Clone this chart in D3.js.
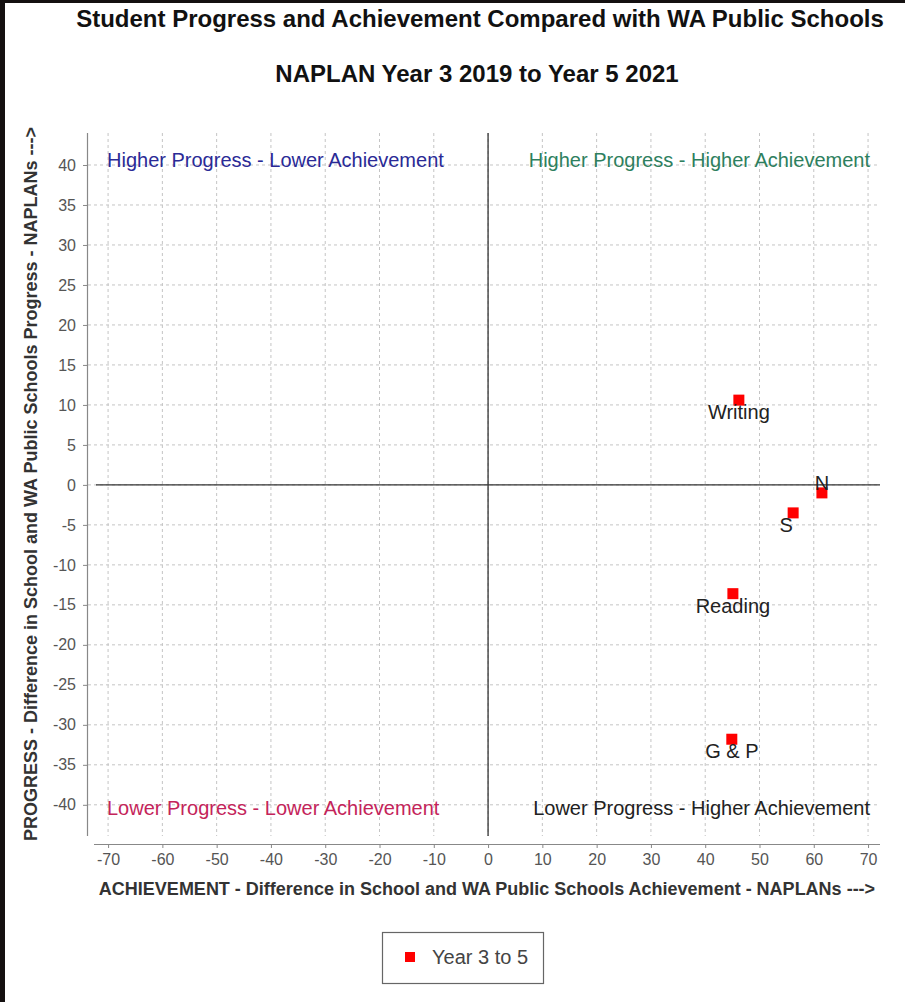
<!DOCTYPE html>
<html>
<head>
<meta charset="utf-8">
<style>
  html, body { margin: 0; padding: 0; background: #fff; }
  svg { display: block; font-family: "Liberation Sans", Arial, sans-serif; }
</style>
</head>
<body>
<svg width="905" height="1002"></svg>
<script src="https://d3js.org/d3.v7.min.js"></script>
<script>
// data
const subjects = ["Writing", "N", "S", "Reading", "G & P"];
const achievement = [46.2, 61.5, 56.2, 45.1, 44.9];
const progress = [10.6, -1.0, -3.5, -13.6, -31.8];
const xTicks = [-70, -60, -50, -40, -30, -20, -10, 0, 10, 20, 30, 40, 50, 60, 70];
const yTicks = [40, 35, 30, 25, 20, 15, 10, 5, 0, -5, -10, -15, -20, -25, -30, -35, -40];
const quadrants = ["Higher Progress - Lower Achievement", "Higher Progress - Higher Achievement",
                   "Lower Progress - Lower Achievement", "Lower Progress - Higher Achievement"];
const seriesName = "Year 3 to 5";

const width = 905, height = 1002;
const svg = d3.select("svg");

// dark frame on top / left like the screenshot
svg.append("rect").attr("width", width).attr("height", height).attr("fill", "#fff");
svg.append("rect").attr("x", 0).attr("y", 0).attr("width", width).attr("height", 3).attr("fill", "#141010");
svg.append("rect").attr("x", 0).attr("y", 0).attr("width", 5).attr("height", height).attr("fill", "#141010");

// plot area
const plot = {left: 88, right: 880, top: 133, bottom: 836};
const x = d3.scaleLinear().domain([-73.7, 72.2]).range([plot.left, plot.right]);
const y = d3.scaleLinear().domain([44, -43.9]).range([plot.top, plot.bottom]);

// titles
svg.append("text").attr("x", 480).attr("y", 27).attr("text-anchor", "middle")
  .attr("font-weight", "bold").attr("font-size", "24px").attr("fill", "#111")
  .text("Student Progress and Achievement Compared with WA Public Schools");
svg.append("text").attr("x", 477).attr("y", 82).attr("text-anchor", "middle")
  .attr("font-weight", "bold").attr("font-size", "24px").attr("fill", "#111")
  .text("NAPLAN Year 3 2019 to Year 5 2021");

// grid
const grid = svg.append("g").attr("stroke", "#c4c4c4").attr("stroke-width", 1).attr("stroke-dasharray", "3,3");
grid.selectAll(".gx").data(xTicks).enter().append("line")
  .attr("x1", d => x(d)).attr("x2", d => x(d))
  .attr("y1", plot.top).attr("y2", plot.bottom);
grid.selectAll(".gy").data(yTicks).enter().append("line")
  .attr("x1", plot.left).attr("x2", plot.right)
  .attr("y1", d => y(d)).attr("y2", d => y(d));

// zero lines
svg.append("line").attr("x1", 96).attr("x2", plot.right).attr("y1", y(0)).attr("y2", y(0))
  .attr("stroke", "#333").attr("stroke-width", 1.3);
svg.append("line").attr("x1", x(0)).attr("x2", x(0)).attr("y1", plot.top).attr("y2", plot.bottom)
  .attr("stroke", "#333").attr("stroke-width", 1.3);

// axes
const fmt = d => String(d);
const axisX = d3.axisBottom(x).tickValues(xTicks).tickFormat(fmt).tickSize(4).tickPadding(6);
const gx = svg.append("g").attr("transform", "translate(0,844)").call(axisX);
gx.select(".domain").attr("d", `M${94},0.5H${plot.right}`);
const axisY = d3.axisLeft(y).tickValues(yTicks).tickFormat(fmt).tickSize(4).tickPadding(7);
const gy = svg.append("g").attr("transform", "translate(87,0)").call(axisY);
gy.select(".domain").attr("d", `M0.5,${plot.top}V${plot.bottom}`);
[gx, gy].forEach(g => {
  g.select(".domain").attr("stroke", "#888").attr("stroke-width", 1.2);
  g.selectAll(".tick line").attr("stroke", "#888");
  g.selectAll(".tick text").attr("fill", "#555").attr("font-size", "16px")
    .attr("font-family", "Liberation Sans, Arial, sans-serif");
});

// axis titles
svg.append("text").attr("x", 487).attr("y", 895).attr("text-anchor", "middle")
  .attr("font-weight", "bold").attr("font-size", "18px").attr("fill", "#333")
  .text("ACHIEVEMENT - Difference in School and WA Public Schools Achievement - NAPLANs  --->");
svg.append("text").attr("transform", "translate(37,484) rotate(-90)").attr("text-anchor", "middle")
  .attr("font-weight", "bold").attr("font-size", "18px").attr("fill", "#333")
  .text("PROGRESS - Difference in School and WA Public Schools Progress - NAPLANs  --->");

// quadrant labels
const qColors = ["#2a2a96", "#2e7f5e", "#c4245a", "#222"];
const qX = [107, 870, 107, 870];
const qAnchor = ["start", "end", "start", "end"];
const qY = [167, 167, 815, 815];
svg.selectAll(".quad").data(quadrants).enter().append("text")
  .attr("x", (d, i) => qX[i]).attr("y", (d, i) => qY[i])
  .attr("text-anchor", (d, i) => qAnchor[i])
  .attr("fill", (d, i) => qColors[i]).attr("font-size", "20px")
  .text(d => d);

// points
const pts = subjects.map((s, i) => ({name: s, ax: achievement[i], pr: progress[i]}));
const sq = 11;
svg.selectAll(".pt").data(pts).enter().append("rect")
  .attr("x", d => x(d.ax) - sq / 2).attr("y", d => y(d.pr) - sq / 2)
  .attr("width", sq).attr("height", sq).attr("fill", "#f00");
const above = new Set(["N"]);
const shiftX = {"S": -7};
svg.selectAll(".lbl").data(pts).enter().append("text")
  .attr("x", d => x(d.ax) + (shiftX[d.name] || 0))
  .attr("y", d => above.has(d.name) ? y(d.pr) - 3 : y(d.pr) + 19)
  .attr("text-anchor", "middle").attr("font-size", "20px").attr("fill", "#222")
  .text(d => d.name);

// legend
const lg = svg.append("g").attr("transform", "translate(382,932)");
lg.append("rect").attr("x", 0.5).attr("y", 0.5).attr("width", 161).attr("height", 51)
  .attr("fill", "#fff").attr("stroke", "#666").attr("stroke-width", 1.2);
lg.append("rect").attr("x", 23).attr("y", 20).attr("width", 10).attr("height", 10).attr("fill", "#f00");
lg.append("text").attr("x", 50).attr("y", 32).attr("font-size", "20px").attr("fill", "#444").text(seriesName);
</script>
</body>
</html>
